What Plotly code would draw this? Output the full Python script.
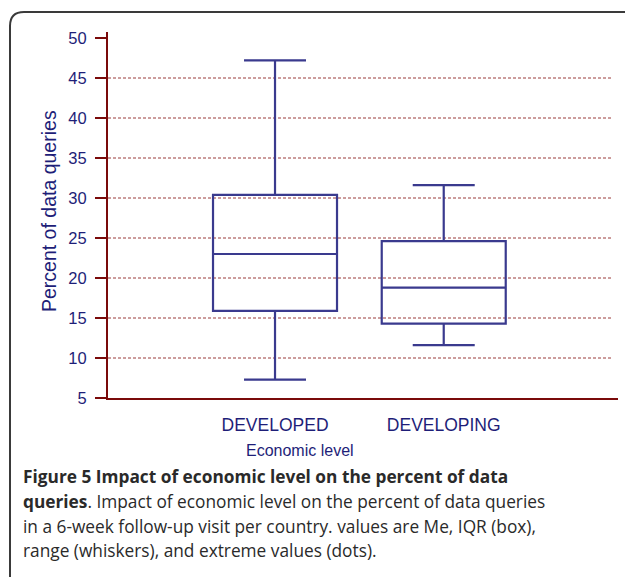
import plotly.graph_objects as go

# ---- data ----
categories = ["DEVELOPED", "DEVELOPING"]
q1_vals = [15.9, 14.3]
median_vals = [23.0, 18.8]
q3_vals = [30.4, 24.6]
lower_vals = [7.3, 11.6]
upper_vals = [47.2, 31.6]
y_ticks = [5, 10, 15, 20, 25, 30, 35, 40, 45, 50]
grid_vals = [10, 15, 20, 25, 30, 35, 40, 45]

W, H = 625, 577
L, R, T, B = 108, 7, 32, 179
PW, PH = W - L - R, H - T - B

def px(xp):
    return (xp - L) / PW

def py(yp):
    return (H - B - yp) / PH

TEXT = "#1e1e78"
BOXC = "#3a3a8e"
AXC = "#7a0a0a"
GRIDC = "#9a3a3a"

fig = go.Figure()
for i, c in enumerate(categories):
    fig.add_trace(go.Box(
        x=[c], q1=[q1_vals[i]], median=[median_vals[i]], q3=[q3_vals[i]],
        lowerfence=[lower_vals[i]], upperfence=[upper_vals[i]],
        width=0.735, whiskerwidth=0.5,
        line=dict(color=BOXC, width=2.2), fillcolor="rgba(255,255,255,0)",
        boxpoints=False, showlegend=False, hoverinfo="skip",
    ))

shapes = []
for g in grid_vals:
    shapes.append(dict(type="line", xref="paper", yref="y", x0=0, x1=px(612),
                       y0=g, y1=g, line=dict(color=GRIDC, width=1, dash="3px,2px"),
                       layer="below"))
# panel border with rounded top-left corner
bx, by, rr = 10, 12, 14
path = (f"M {px(bx)},{py(H + 20)} L {px(bx)},{py(by + rr)} "
        f"Q {px(bx)},{py(by)} {px(bx + rr)},{py(by)} L {px(W + 20)},{py(by)}")
shapes.append(dict(type="path", xref="paper", yref="paper", path=path,
                   line=dict(color="#3a3a3a", width=2)))

annotations = [
    dict(text="Percent of data queries", xref="paper", yref="paper",
         x=px(49), y=py(211), textangle=-90, showarrow=False,
         font=dict(family="Liberation Sans", size=19.5, color=TEXT),
         xanchor="center", yanchor="middle"),
    dict(text="Economic level", xref="paper", yref="paper",
         x=px(300), y=py(450), showarrow=False,
         font=dict(family="Liberation Sans", size=16, color=TEXT),
         xanchor="center", yanchor="middle"),
]
cap_lines = [
    ("<b>Figure 5 Impact of economic level on the percent of data</b>", 477),
    ("<b>queries</b>. Impact of economic level on the percent of data queries", 501),
    ("in a 6-week follow-up visit per country. values are Me, IQR (box),", 526),
    ("range (whiskers), and extreme values (dots).", 550),
]
for t, yy in cap_lines:
    annotations.append(dict(text=t, xref="paper", yref="paper", x=px(21), y=py(yy),
                            showarrow=False, xanchor="left", yanchor="middle",
                            font=dict(family="Open Sans", size=17.3, color="#2a2a2a")))

fig.update_layout(
    width=W, height=H,
    margin=dict(l=L, r=R, t=T, b=B, pad=0),
    paper_bgcolor="white", plot_bgcolor="white",
    shapes=shapes, annotations=annotations,
    xaxis=dict(type="category", range=[-0.99, 2.033], showgrid=False,
               showline=True, linecolor=AXC, linewidth=2, ticks="",
               ticklabelstandoff=10,
               tickfont=dict(family="Liberation Sans", size=17.5, color=TEXT),
               zeroline=False, fixedrange=True),
    yaxis=dict(range=[5, 50.75], tickvals=y_ticks, showgrid=False,
               showline=True, linecolor=AXC, linewidth=2,
               ticks="outside", ticklen=11, tickwidth=2, tickcolor=AXC,
               ticklabelstandoff=5,
               tickfont=dict(family="Liberation Sans", size=16.5, color=TEXT),
               zeroline=False, fixedrange=True),
)
fig.write_html("out.html", config={"displayModeBar": False},
               post_script="document.body.style.margin='0';")
